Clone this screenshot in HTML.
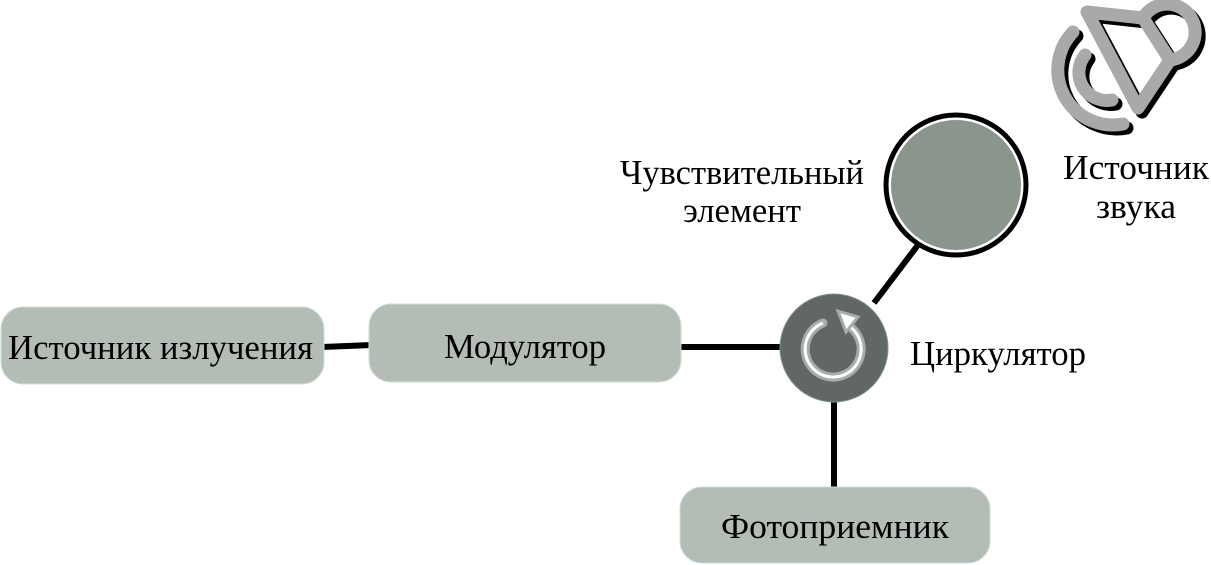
<!DOCTYPE html>
<html><head><meta charset="utf-8"><style>html,body{margin:0;padding:0;background:#fff}svg{display:block}</style></head>
<body>
<svg width="1211" height="565" viewBox="0 0 1211 565" xmlns="http://www.w3.org/2000/svg" font-family="'Liberation Serif', serif" font-size="35">
<g stroke="#000" stroke-width="6" fill="none">
<line x1="322" y1="347" x2="372" y2="345"/>
<line x1="679" y1="347" x2="782" y2="347"/>
<line x1="834" y1="398" x2="834" y2="490"/>
<line x1="874" y1="303" x2="924" y2="237"/>
</g>
<rect x="1" y="307" width="323" height="77" rx="22" fill="#b3bcb5" stroke="#cfe0d2" stroke-width="1"/>
<text x="8" y="359" textLength="305" lengthAdjust="spacingAndGlyphs">Источник излучения</text>
<rect x="369" y="304" width="312" height="78" rx="22" fill="#b3bcb5" stroke="#cfe0d2" stroke-width="1"/>
<text x="444" y="358" textLength="162" lengthAdjust="spacingAndGlyphs">Модулятор</text>
<rect x="680" y="487" width="310" height="76" rx="22" fill="#b3bcb5" stroke="#cfe0d2" stroke-width="1"/>
<text x="721" y="538" textLength="228" lengthAdjust="spacingAndGlyphs">Фотоприемник</text>
<circle cx="834" cy="348" r="54" fill="#616766" stroke="#7f9583" stroke-width="1"/>
<path d="M849 326 A28 28 0 1 1 823 323" fill="none" stroke="#a9acab" stroke-width="9" stroke-linecap="round"/>
<path d="M849 326 A28 28 0 1 1 823 323" fill="none" stroke="#fff" stroke-width="3"/>
<path d="M838 311 L858 317 L846 332 Z" fill="#fff" stroke="#a9acab" stroke-width="3"/>
<text x="910" y="365" textLength="176" lengthAdjust="spacingAndGlyphs">Циркулятор</text>
<circle cx="956" cy="185" r="70" fill="#fff" stroke="#000" stroke-width="5"/>
<circle cx="956" cy="185" r="65" fill="#8a968c"/>
<text x="620" y="184" textLength="244" lengthAdjust="spacingAndGlyphs">Чувствительный</text>
<text x="683" y="222" textLength="118" lengthAdjust="spacingAndGlyphs">элемент</text>
<g fill="none" stroke-linecap="round" stroke-linejoin="round">
<g stroke="#000" stroke-width="13" transform="translate(4,4)">
<path d="M1073 32 A55 55 0 0 0 1123 124"/>
<path d="M1085 55 A28 28 0 0 0 1112 100"/>
<path d="M1087 12 L1138 108 L1170 60 L1143 18 Z"/>
<path d="M1143 18 A28 28 0 1 1 1170 60"/>
</g>
<g stroke="#a7aaa8" stroke-width="13">
<path d="M1073 32 A55 55 0 0 0 1123 124"/>
<path d="M1085 55 A28 28 0 0 0 1112 100"/>
<path d="M1087 12 L1138 108 L1170 60 L1143 18 Z"/>
<path d="M1143 18 A28 28 0 1 1 1170 60"/>
</g>
</g>
<text x="1063" y="179" textLength="146" lengthAdjust="spacingAndGlyphs">Источник</text>
<text x="1096" y="218" textLength="80" lengthAdjust="spacingAndGlyphs">звука</text>
</svg>
</body></html>
